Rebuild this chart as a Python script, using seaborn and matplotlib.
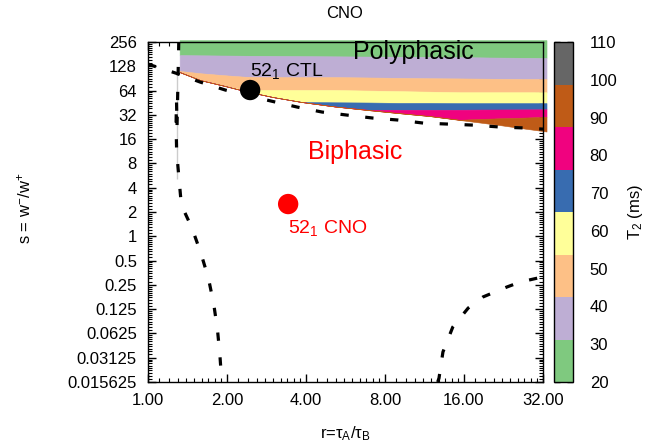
import numpy as np
import matplotlib
matplotlib.use("Agg")
import matplotlib.pyplot as plt
import seaborn as sns
from matplotlib.colors import ListedColormap, BoundaryNorm
from matplotlib.cm import ScalarMappable
from matplotlib.ticker import FixedLocator, FixedFormatter, LogLocator, NullFormatter

# ---------------- data ----------------
x_ticks = [1, 2, 4, 8, 16, 32]
x_tick_labels = ["1.00", "2.00", "4.00", "8.00", "16.00", "32.00"]
y_ticks = [0.015625, 0.03125, 0.0625, 0.125, 0.25, 0.5, 1, 2, 4, 8, 16, 32, 64, 128, 256]
y_tick_labels = ["0.015625", "0.03125", "0.0625", "0.125", "0.25", "0.5", "1", "2", "4",
                 "8", "16", "32", "64", "128", "256"]
cbar_ticks = [20, 30, 40, 50, 60, 70, 80, 90, 100, 110]
t2_levels = [20, 31.25, 42.5, 53.75, 65, 76.25, 87.5, 98.75, 110]
t2_colors = ["#7fc97f", "#beaed4", "#fdc086", "#ffff99", "#386cb0", "#f0027f", "#bf5b17", "#666666"]

# colored (polyphasic) region: columns in r, boundaries in s
band_r = [1.32, 1.58, 1.97, 2.34, 2.99, 3.86, 5.16, 6.89, 8.97, 11.87, 15.45, 18.4, 21.9, 27.3, 33.0]
region_top = [270, 270, 270, 270, 270, 270, 270, 270, 270, 270, 270, 270, 270, 270, 270]
region_bottom = [108.5, 86.4, 72.8, 63.1, 53.2, 46.1, 40.6, 36.7, 33.7, 30.9, 27.6, 25.7, 23.9, 21.6, 19.9]
bound_31 = [176, 175, 174, 173, 172, 171, 170, 169, 168, 167, 166, 165, 164, 163, 162]
bound_42 = [112, 105, 99, 95, 94, 94, 94, 93, 92, 91, 90.5, 90, 89.5, 89, 89]
bound_54 = [66, 66, 66, 65, 65, 65, 65, 64, 63, 62, 61, 61, 61, 61, 61]
bound_65 = [47, 47, 47, 47, 47, 46.2, 45.8, 45.5, 45, 45, 44.7, 44.7, 44.7, 44.7, 44.7]
bound_76 = [37, 37, 37, 37, 37, 37, 37, 37, 37, 37, 37, 37.2, 37.3, 37.4, 37.5]
bound_88 = [28, 28, 28, 28, 28, 28, 28, 28, 28, 28, 27.8, 28.5, 29, 29.6, 30.3]

# dashed boundary curves
curveA_r = [1.0, 1.28, 1.58, 1.97, 2.45, 2.99, 3.70, 4.60, 5.73, 7.20, 8.97, 11.2, 13.9, 17.3, 22.0, 27.3, 32.0]
curveA_s = [136, 105, 81.6, 65, 54.6, 46.9, 40, 34.7, 31.8, 29.2, 27.6, 25.3, 24.6, 23.9, 22.6, 22, 21.3]
curveB_r = [1.31, 1.29, 1.284, 1.279, 1.286, 1.29, 1.34, 1.47, 1.59, 1.70, 1.78, 1.84, 1.88, 1.91]
curveB_s = [256, 105, 48.8, 24, 11, 5.1, 2.44, 1.27, 0.62, 0.30, 0.145, 0.069, 0.033, 0.015625]
curveC_r = [12.7, 12.85, 13.3, 14.5, 16.6, 18.9, 23.3, 26.2, 31.7, 32.0]
curveC_s = [0.015625, 0.0175, 0.0368, 0.075, 0.129, 0.177, 0.235, 0.271, 0.312, 0.315]

# points
ctl_r, ctl_s = [2.45], [65]
cno_r, cno_s = [3.42], [2.51]

# ---------------- style ----------------
sns.set_theme(style="ticks")
plt.rcParams['font.family'] = ['Liberation Sans', 'DejaVu Sans']
plt.rcParams['mathtext.fontset'] = 'custom'
plt.rcParams['mathtext.rm'] = 'Liberation Sans'
plt.rcParams['mathtext.it'] = 'Liberation Sans'
plt.rcParams['mathtext.default'] = 'regular'

fig = plt.figure(figsize=(6.52, 4.46), dpi=100)
ax = fig.add_axes([148 / 652, 64 / 446, 395 / 652, 340 / 446])
ax.set_xscale('log', base=2)
ax.set_yscale('log', base=2)

# colored bands
bottom = np.array(region_bottom, dtype=float)
bands = [
    (bound_31, region_top, t2_colors[0]),
    (bound_42, bound_31, t2_colors[1]),
    (bound_54, bound_42, t2_colors[2]),
    (bound_65, bound_54, t2_colors[3]),
    (bound_76, bound_65, t2_colors[4]),
    (bound_88, bound_76, t2_colors[5]),
    (region_bottom, bound_88, t2_colors[6]),
]
for lo, hi, col in bands:
    lo_e = np.maximum(np.array(lo, dtype=float), bottom)
    hi_e = np.maximum(np.array(hi, dtype=float), bottom)
    ax.fill_between(band_r, lo_e, hi_e, color=col, lw=0.4, edgecolor=col,
                    clip_on=False, zorder=1)

dash = (0, (2.6, 5.2))
for cr, cs in [(curveA_r, curveA_s), (curveB_r, curveB_s), (curveC_r, curveC_s)]:
    sns.lineplot(x=cr, y=cs, sort=False, color='black', lw=2.3, linestyle=dash,
                 ax=ax, zorder=3)

sns.scatterplot(x=ctl_r, y=ctl_s, s=215, color='black', edgecolor='none', ax=ax, zorder=5)
sns.scatterplot(x=cno_r, y=cno_s, s=215, color='#ff0000', edgecolor='none', ax=ax, zorder=5)

ax.text(2.45, 97, "52$_1$ CTL", fontsize=14, color='black', ha='left', va='baseline', zorder=6)
ax.text(3.42, 1.10, "52$_1$ CNO", fontsize=14, color='#ff0000', ha='left', va='baseline', zorder=6)
ax.text(10.3, 157, "Polyphasic", fontsize=18, color='black', ha='center', va='baseline', zorder=6)
ax.text(6.15, 9.0, "Biphasic", fontsize=18, color='#ff0000', ha='center', va='baseline', zorder=6)

ax.set_xlim(1, 32)
ax.set_ylim(2 ** -6, 256)
ax.xaxis.set_major_locator(FixedLocator(x_ticks))
ax.xaxis.set_major_formatter(FixedFormatter(x_tick_labels))
ax.yaxis.set_major_locator(FixedLocator(y_ticks))
ax.yaxis.set_major_formatter(FixedFormatter(y_tick_labels))
ax.xaxis.set_minor_locator(LogLocator(base=2, subs=np.arange(1.1, 2.0, 0.1), numticks=50))
ax.yaxis.set_minor_locator(LogLocator(base=2, subs=np.arange(1.1, 2.0, 0.1), numticks=50))
ax.xaxis.set_minor_formatter(NullFormatter())
ax.yaxis.set_minor_formatter(NullFormatter())
ax.tick_params(which='both', direction='in', top=True, right=True, colors='black',
               labelcolor='black', labelsize=12)
ax.tick_params(which='major', length=6, width=1, pad=8)
ax.tick_params(which='minor', length=3, width=0.8)
for sp in ax.spines.values():
    sp.set_color('black')
    sp.set_linewidth(1.0)
    sp.set_zorder(4)

ax.set_xlabel(r"r=τ$_{A}$/τ$_{B}$", fontsize=12, color='black')
ax.xaxis.set_label_coords(0.5, -0.125)
ax.set_ylabel(r"s = w$^{-}$/w$^{+}$", fontsize=12, color='black')
ax.yaxis.set_label_coords(-0.29, 0.51)

fig.text(345 / 652, 1 - 14 / 446, "CNO", fontsize=12, ha='center', va='center', color='black')

# colorbar
cmap = ListedColormap(t2_colors)
norm = BoundaryNorm(t2_levels, cmap.N)
cax = fig.add_axes([554 / 652, 64 / 446, 19 / 652, 340 / 446])
cb = fig.colorbar(ScalarMappable(norm=norm, cmap=cmap), cax=cax, ticks=cbar_ticks)
cb.ax.set_yticklabels([str(t) for t in cbar_ticks])
cb.ax.tick_params(direction='in', left=True, right=True, length=4, width=1,
                  labelsize=12, pad=12, colors='black', labelcolor='black')
cb.ax.minorticks_off()
cb.outline.set_edgecolor('black')
cb.outline.set_linewidth(1.0)
cb.set_label("T$_2$ (ms)", fontsize=12, color='black', labelpad=6)

fig.savefig("out.png", dpi=100)
